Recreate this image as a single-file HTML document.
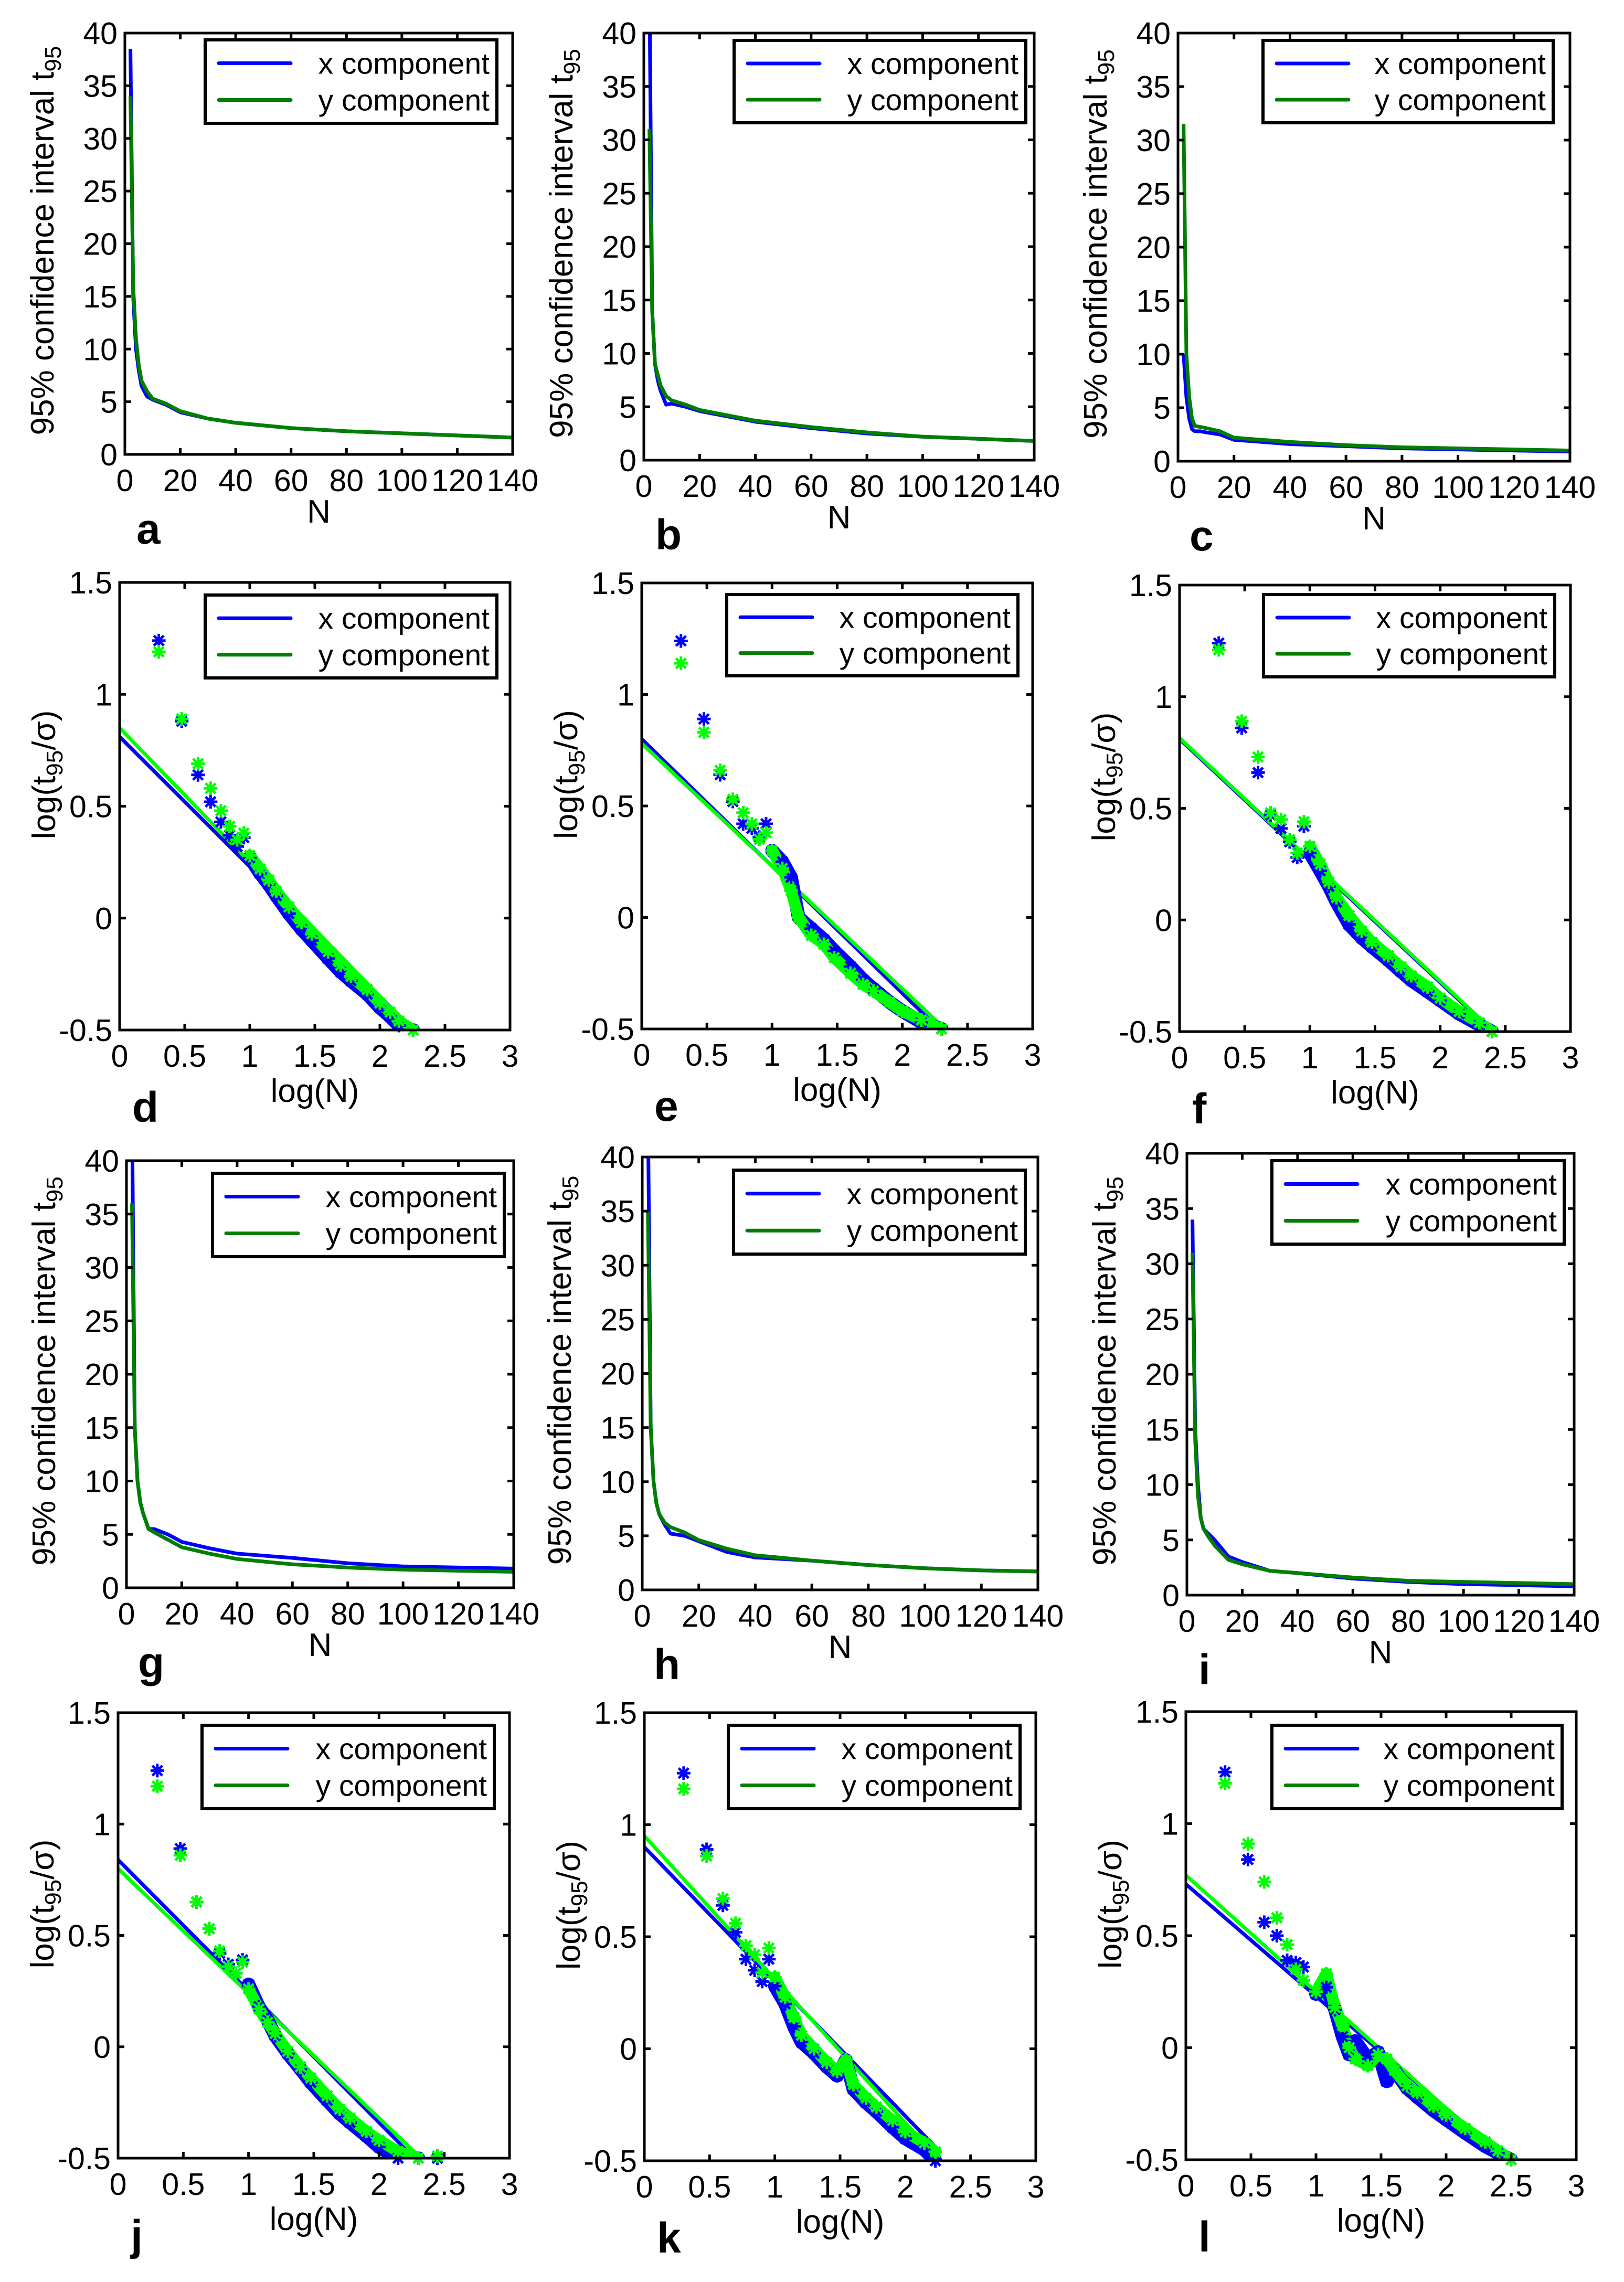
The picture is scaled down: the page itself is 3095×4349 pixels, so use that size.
<!DOCTYPE html>
<html><head><meta charset="utf-8"><title>t95 panels</title>
<style>
html,body{margin:0;padding:0;background:#fff;}
svg{display:block;font-family:"Liberation Sans",Arial,sans-serif;}
</style></head>
<body>
<svg id="fig" xmlns="http://www.w3.org/2000/svg" width="3095" height="4349" viewBox="0 0 3095 4349"></svg>
<script>
// ---------- data ----------
const tN = [2,3,4,5,6,8,10,15,20,30,40,60,80,100,120,140];
const aX = [38.5,15,10,8,6.5,5.5,5.2,4.7,4,3.4,3,2.5,2.2,2,1.8,1.6];
const aY = [34,16,11,8.5,7,6,5.3,4.8,4.1,3.4,3,2.5,2.2,2,1.8,1.6];
const bX = [45,14,9,7.5,6.5,5.2,5.3,5,4.6,4.1,3.6,3,2.5,2.2,2,1.8];
const bY = [31,14,9,8,7,6,5.6,5.2,4.7,4.2,3.7,3.1,2.6,2.2,2,1.8];
const cX = [10,6,4,3,2.8,2.8,2.7,2.5,2,1.8,1.6,1.4,1.2,1.1,1,0.9];
const cY = [31.5,10,6,4,3.3,3.2,3.1,2.8,2.2,2,1.8,1.5,1.3,1.2,1.1,1];
const gX = [45,15,10,8,7,5.5,5.5,5,4.3,3.7,3.2,2.8,2.3,2,1.9,1.8];
const gY = [36,15,10,8,7,5.5,5.2,4.5,3.8,3.2,2.7,2.2,1.9,1.7,1.6,1.5];
const hX = [45,15,10,8,7,6,5.2,5,4.5,3.5,3,2.7,2.3,2,1.8,1.7];
const hY = [35,15,10,8,7,6.2,5.8,5.3,4.6,3.8,3.2,2.7,2.3,2,1.8,1.7];
const iX = [34,15,10,7,6,5.5,5,3.5,3,2.2,2,1.5,1.2,1,0.9,0.8];
const iY = [31,14,9,7,6,5.2,4.5,3.2,2.8,2.2,2,1.6,1.3,1.2,1.1,1];

const dN  = [2,3,4,5,6,7,8,9,10,12,14,16,20,25,30,40,50,60,80,100,120,140,180];
const dX  = [1.24,0.88,0.64,0.52,0.43,0.37,0.32,0.36,0.27,0.2,0.15,0.1,0.02,-0.05,-0.1,-0.18,-0.24,-0.28,-0.34,-0.4,-0.44,-0.48,-0.5];
const dY  = [1.19,0.89,0.69,0.58,0.48,0.41,0.35,0.38,0.28,0.22,0.17,0.12,0.05,-0.02,-0.07,-0.15,-0.21,-0.26,-0.32,-0.38,-0.42,-0.46,-0.5];
const eN  = [2,3,4,5,6,7,8,9,10,12,14,16,20,25,30,40,50,60,80,100,140,200];
const eX  = [1.24,0.89,0.64,0.52,0.42,0.4,0.36,0.42,0.3,0.25,0.18,0.0,-0.05,-0.1,-0.15,-0.22,-0.28,-0.32,-0.38,-0.42,-0.47,-0.5];
const eY  = [1.14,0.83,0.66,0.53,0.47,0.42,0.35,0.38,0.3,0.22,0.12,0.0,-0.08,-0.12,-0.18,-0.25,-0.3,-0.33,-0.38,-0.42,-0.46,-0.5];
const fN  = [2,3,4,5,6,7,8,9,10,12,14,16,20,25,30,40,50,60,80,100,140,200,250];
const fX  = [1.24,0.86,0.66,0.47,0.41,0.35,0.28,0.42,0.3,0.22,0.15,0.08,-0.02,-0.08,-0.12,-0.18,-0.23,-0.27,-0.32,-0.36,-0.42,-0.47,-0.5];
const fY  = [1.21,0.89,0.73,0.48,0.45,0.36,0.3,0.44,0.33,0.25,0.17,0.1,0.02,-0.05,-0.1,-0.16,-0.21,-0.25,-0.3,-0.35,-0.41,-0.46,-0.5];
const jN  = [2,3,4,5,6,7,8,9,10,12,14,16,20,25,30,40,50,60,80,100,140,200,280];
const jX  = [1.24,0.89,0.65,0.53,0.42,0.37,0.33,0.39,0.28,0.18,0.12,0.05,-0.03,-0.1,-0.16,-0.24,-0.3,-0.34,-0.4,-0.45,-0.5,-0.5,-0.5];
const jY  = [1.17,0.86,0.65,0.53,0.43,0.36,0.33,0.38,0.26,0.17,0.11,0.06,-0.02,-0.09,-0.14,-0.22,-0.28,-0.32,-0.38,-0.42,-0.47,-0.5,-0.49];
const kN  = [2,3,4,5,6,7,8,9,10,12,14,16,20,25,30,35,40,50,60,80,100,140,170];
const kX  = [1.23,0.89,0.64,0.52,0.4,0.35,0.3,0.4,0.28,0.2,0.1,0.03,-0.02,-0.08,-0.12,-0.05,-0.18,-0.24,-0.28,-0.35,-0.4,-0.45,-0.5];
const kY  = [1.16,0.86,0.67,0.56,0.46,0.42,0.34,0.45,0.32,0.23,0.14,0.06,0.0,-0.06,-0.1,-0.05,-0.16,-0.22,-0.26,-0.32,-0.37,-0.42,-0.46];
const lN  = [2,3,4,5,6,7,8,10,12,14,16,18,20,25,30,35,40,50,60,80,100,140,200,250,316];
const lX  = [1.23,0.84,0.56,0.5,0.39,0.38,0.36,0.24,0.27,0.17,0.05,-0.03,0.03,-0.05,-0.02,-0.15,-0.1,-0.18,-0.22,-0.28,-0.32,-0.38,-0.44,-0.47,-0.5];
const lY  = [1.18,0.91,0.74,0.58,0.46,0.35,0.3,0.25,0.33,0.18,0.1,0.0,-0.05,-0.08,-0.03,-0.05,-0.1,-0.17,-0.2,-0.26,-0.3,-0.36,-0.42,-0.46,-0.5];
// fit lines: [intercept, slope, end logN]
const dFitX = [0.81,-0.58,2.25], dFitY = [0.85,-0.6,2.28];
const eFitX = [0.8,-0.57,2.3],  eFitY = [0.78,-0.55,2.3];
const fFitX = [0.81,-0.545,2.4], fFitY = [0.815,-0.545,2.4];
const jFitX = [0.84,-0.59,2.27], jFitY = [0.8,-0.56,2.3];
const kFitX = [0.9,-0.6,2.25],  kFitY = [0.95,-0.64,2.25];
const lFitX = [0.73,-0.5,2.5],  lFitY = [0.77,-0.52,2.5];

const tTicks = [0,5,10,15,20,25,30,35,40];
const tXTicks = [0,20,40,60,80,100,120,140];
const lgTicks = [-0.5,0,0.5,1,1.5];
const lgXTicks = [0,0.5,1,1.5,2,2.5,3];

// ---------- layout ----------
const panels = [
 {id:'a',type:'t',L:238,R:977,T:63,B:866,lg:[391,76,947,235],x:aX,y:aY},
 {id:'b',type:'t',L:1227,R:1971,T:63,B:877,lg:[1399,77,1955,234],x:bX,y:bY},
 {id:'c',type:'t',L:2245,R:2992,T:63,B:879,lg:[2407,77,2960,234],x:cX,y:cY},
 {id:'d',type:'l',L:228,R:972,T:1110,B:1963,lg:[391,1134,947,1292],n:dN,x:dX,y:dY,fx:dFitX,fy:dFitY,bandMax:3},
 {id:'e',type:'l',L:1223,R:1968,T:1111,B:1961,lg:[1385,1133,1940,1288],n:eN,x:eX,y:eY,fx:eFitX,fy:eFitY,bandMax:3},
 {id:'f',type:'l',L:2248,R:2993,T:1115,B:1966,lg:[2408,1133,2963,1290],n:fN,x:fX,y:fY,fx:fFitX,fy:fFitY,bandMax:3},
 {id:'g',type:'t',L:241,R:979,T:2212,B:3026,lg:[405,2236,961,2395],x:gX,y:gY},
 {id:'h',type:'t',L:1224,R:1978,T:2205,B:3030,lg:[1398,2230,1954,2390],x:hX,y:hY},
 {id:'i',type:'t',L:2262,R:3000,T:2198,B:3040,lg:[2424,2212,2981,2371],x:iX,y:iY},
 {id:'j',type:'l',L:225,R:971,T:3264,B:4113,lg:[385,3288,942,3447],n:jN,x:jX,y:jY,fx:jFitX,fy:jFitY,bandMax:2.35},
 {id:'k',type:'l',L:1228,R:1974,T:3264,B:4118,lg:[1388,3288,1944,3447],n:kN,x:kX,y:kY,fx:kFitX,fy:kFitY,bandMax:3},
 {id:'l',type:'l',L:2260,R:3004,T:3262,B:4116,lg:[2424,3288,2977,3447],n:lN,x:lX,y:lY,fx:lFitX,fy:lFitY,bandMax:3}
];

const NS='http://www.w3.org/2000/svg';
const svg=document.getElementById('fig');
function mk(tag,attrs,parent){const e=document.createElementNS(NS,tag);for(const k in attrs)e.setAttribute(k,attrs[k]);(parent||svg).appendChild(e);return e;}

const BLUE='#0000ff', DKGREEN='#007f00', LTGREEN='#00ff00';

function star(g,cx,cy,col){
  const s=13, d=9.5;
  const p=mk('path',{d:`M${cx-s},${cy}H${cx+s}M${cx},${cy-s}V${cy+s}M${cx-d},${cy-d}L${cx+d},${cy+d}M${cx-d},${cy+d}L${cx+d},${cy-d}`,stroke:col,'stroke-width':5,fill:'none'},g);
  
  
}

panels.forEach(p=>{
  const g=mk('g',{});
  
  
  const isT=p.type==='t';
  const x0=0, x1=isT?140:3, y0=isT?0:-0.5, y1=isT?40:1.5;
  const sx=v=>p.L+(v-x0)/(x1-x0)*(p.R-p.L);
  const sy=v=>p.B-(v-y0)/(y1-y0)*(p.B-p.T);
  const clipId='clip'+p.id;
  const cp=mk('clipPath',{id:clipId},g);
  mk('rect',{x:p.L,y:p.T,width:p.R-p.L,height:p.B-p.T},cp);
  const plot=mk('g',{'clip-path':`url(#${clipId})`},g);
  
  

  if(isT){
    [[p.x,BLUE,'x-component-line'],[p.y,DKGREEN,'y-component-line']].forEach(([arr,col,nm])=>{
      const pts=tN.map((n,i)=>sx(n)+','+sy(arr[i])).join(' ');
      const pl=mk('polyline',{points:pts,fill:'none',stroke:col,'stroke-width':7,'stroke-linejoin':'round'},plot);
      
      
    });
  } else {
    [[p.fx,BLUE,'x-fit-line'],[p.fy,LTGREEN,'y-fit-line']].forEach(([f,col,nm])=>{
      const ln=mk('line',{x1:sx(0),y1:sy(f[0]),x2:sx(f[2]),y2:sy(f[0]+f[1]*f[2]),stroke:col,'stroke-width':7},plot);
      
      
    });
    [[p.x,BLUE,'x-marker-band'],[p.y,LTGREEN,'y-marker-band']].forEach(([arr,col,nm])=>{
      const pts=p.n.map((n,i)=>[Math.log10(n),arr[i]]).filter(q=>q[0]>=1&&q[0]<=p.bandMax);
      const pl=mk('polyline',{points:pts.map(q=>sx(q[0])+','+sy(q[1])).join(' '),fill:'none',stroke:col,'stroke-width':col===BLUE?26:22,'stroke-linejoin':'round','stroke-linecap':'round'},plot);
      
      
    });
    const mg=mk('g',{},g);
    
    
    p.n.forEach((n,i)=>star(mg,sx(Math.log10(n)),sy(p.x[i]),BLUE));
    p.n.forEach((n,i)=>star(mg,sx(Math.log10(n)),sy(p.y[i]),LTGREEN));
  }

  const box=mk('rect',{x:p.L,y:p.T,width:p.R-p.L,height:p.B-p.T,fill:'none',stroke:'#000','stroke-width':5},g);
  
  
  const yt=isT?tTicks:lgTicks, xt=isT?tXTicks:lgXTicks;
  yt.forEach(v=>{
    const y=sy(v);
    mk('line',{x1:p.L,y1:y,x2:p.L+12,y2:y,stroke:'#000','stroke-width':5},g);
    mk('line',{x1:p.R,y1:y,x2:p.R-12,y2:y,stroke:'#000','stroke-width':5},g);
    const t=mk('text',{x:p.L-14,y:y+21,'font-size':59,'text-anchor':'end',fill:'#000'},g);
    t.textContent=String(v);
    
    
  });
  xt.forEach(v=>{
    const x=sx(v);
    mk('line',{x1:x,y1:p.B,x2:x,y2:p.B-12,stroke:'#000','stroke-width':5},g);
    mk('line',{x1:x,y1:p.T,x2:x,y2:p.T+12,stroke:'#000','stroke-width':5},g);
    const t=mk('text',{x:x,y:p.B+70,'font-size':59,'text-anchor':'middle',fill:'#000'},g);
    t.textContent=String(v);
    
    
  });
  const xl=mk('text',{x:(p.L+p.R)/2,y:p.B+(isT?130:137),'font-size':62,'text-anchor':'middle',fill:'#000'},g);
  xl.textContent=isT?'N':'log(N)';
  
  
  const ylx=isT?p.L-136:p.L-123, yly=(p.T+p.B)/2-(isT?6:60);
  const yl=mk('text',{x:0,y:0,'font-size':62,'text-anchor':'middle',fill:'#000',transform:`translate(${ylx},${yly}) rotate(-90)`},g);
  
  
  if(isT){
    yl.appendChild(document.createTextNode('95% confidence interval t'));
    const s=mk('tspan',{'font-size':44,dy:14},yl); s.textContent='95';
  } else {
    yl.appendChild(document.createTextNode('log(t'));
    const s=mk('tspan',{'font-size':44,dy:14},yl); s.textContent='95';
    const r=mk('tspan',{dy:-14},yl); r.textContent='/σ)';
  }
  const pl=mk('text',{x:p.L+(isT?22:24),y:p.B+(isT?170:175),'font-size':82,'font-weight':'bold',fill:'#000'},g);
  pl.textContent=p.id;
  
  
  const [lx0,ly0,lx1,ly1]=p.lg;
  const lg=mk('g',{},g);
  
  
  mk('rect',{x:lx0,y:ly0,width:lx1-lx0,height:ly1-ly0,fill:'#fff',stroke:'#000','stroke-width':6},lg);
  const h=ly1-ly0;
  [['x component',BLUE,0.28],['y component',DKGREEN,0.72]].forEach(([txt,col,f])=>{
    const y=ly0+h*f;
    const e=mk('line',{x1:lx0+26,y1:y,x2:lx0+163,y2:y,stroke:col,'stroke-width':7,'stroke-linecap':'round'},lg);
    
    
    const t=mk('text',{x:lx1-14,y:y+20,'font-size':57,'text-anchor':'end',fill:'#000'},lg);
    t.textContent=txt;
    
    
  });
});
</script>
</body></html>
